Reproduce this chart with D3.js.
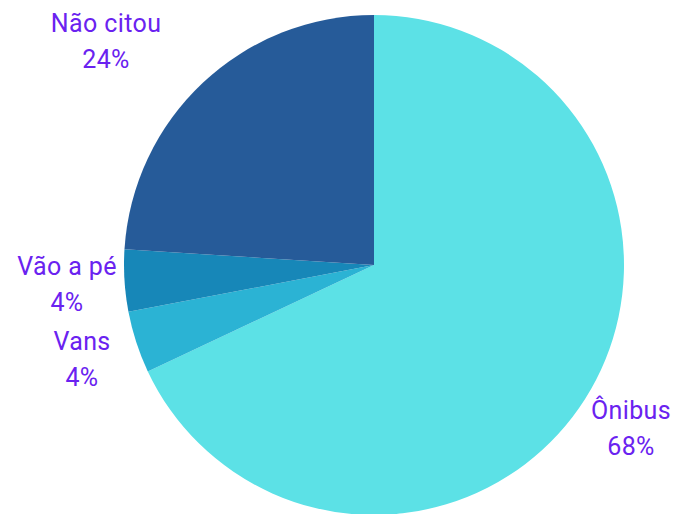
<!DOCTYPE html>
<html>
<head>
<meta charset="utf-8">
<script src="https://cdn.jsdelivr.net/npm/d3@7/dist/d3.min.js"></script>
<style>
  html, body { margin: 0; padding: 0; background: #ffffff; }
  svg { display: block; }
  text { font-family: Roboto, "Noto Sans", sans-serif; }
</style>
</head>
<body>
<svg id="chart" width="680" height="514"></svg>
<script>
// Modes of transport cited
const categories = ["Ônibus", "Vans", "Vão a pé", "Não citou"];
const values = [68, 4, 4, 24];
const colors = ["#5ce1e6", "#2bb3d4", "#1787b8", "#265b99"];

// label anchor positions relative to the pie centre (layout only)
const labelPos = [[257, 154], [-292, 85], [-307, 10], [-268, -233]];

const cx = 374, cy = 265, radius = 250;

const svg = d3.select("#chart");
const g = svg.append("g").attr("transform", `translate(${cx},${cy})`);

const data = categories.map((c, i) => ({ name: c, value: values[i], color: colors[i], pos: labelPos[i] }));

const pie = d3.pie().value(d => d.value).sort(null);
const arc = d3.arc().innerRadius(0).outerRadius(radius);

const arcs = pie(data);

g.selectAll("path.slice")
  .data(arcs)
  .join("path")
  .attr("class", "slice")
  .attr("d", arc)
  .attr("fill", d => d.data.color);

const labels = g.selectAll("text.label")
  .data(arcs)
  .join("text")
  .attr("class", "label")
  .attr("text-anchor", "middle")
  .attr("fill", "#6a22f0")
  .attr("font-size", 25)
  .attr("letter-spacing", 0.4)
  .attr("transform", d => `translate(${d.data.pos[0]},${d.data.pos[1]})`);

labels.append("tspan")
  .attr("x", 0)
  .attr("y", 0)
  .text(d => d.data.name);

labels.append("tspan")
  .attr("x", 0)
  .attr("y", 36)
  .text(d => `${d.data.value}%`);
</script>
</body>
</html>
